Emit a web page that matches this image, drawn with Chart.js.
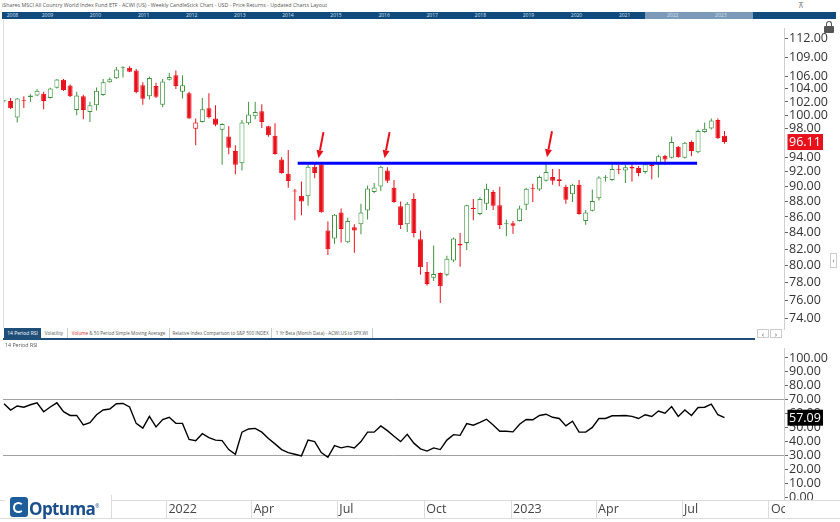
<!DOCTYPE html>
<html>
<head>
<meta charset="utf-8">
<script src="https://cdn.jsdelivr.net/npm/chart.js@4.4.1/dist/chart.umd.min.js"></script>
<style>
  body { margin: 0; background: #fff; }
  #wrap { position: relative; width: 840px; height: 522px; overflow: hidden; font-family: 'Open Sans', sans-serif; }
  canvas { position: absolute; left: 0; }
  #price { top: 20px; }
  #rsi { top: 340px; }
  .abs { position: absolute; }
  #title { left: 2px; top: 1px; font-size: 5.3px; color: #555; white-space: nowrap; line-height: 8px; }
  #nav { left: 2px; top: 12px; width: 834px; height: 7px; background: #114b7e; }
  #navSel { left: 643px; top: 0; width: 108px; height: 7px; background: #7c9aba; }
  .yr { position: absolute; top: 0; font-size: 5px; color: #d5e0ec; line-height: 7px; }
  .tab { position: absolute; top: 328px; height: 10px; line-height: 10px; font-size: 4.6px; color: #555;
         text-align: center; border-right: 1px solid #ccc; background: #fff; box-sizing: border-box;
         white-space: nowrap; overflow: hidden; }
  .tab.act { background: #1f4e79; color: #fff; border: none; font-size: 5px; }
  #tabline { left: 3px; top: 338px; width: 752px; height: 2px; background: #1f4e79; }
  #rsiLabel { left: 5px; top: 341px; font-size: 5.3px; color: #555; line-height: 8px; }
  .btn { position: absolute; top: 329px; width: 12px; height: 9px; border: 1px solid #ccc; box-sizing: border-box;
         font-size: 8px; line-height: 7px; text-align: center; color: #555; background: #fff; }
  #leftBorder { left: 3px; top: 20px; width: 1px; height: 308px; background: #ddd; }
  .hline { position: absolute; left: 0; width: 840px; height: 1px; background: #dcdcdc; }
  #clipR { left: 785px; top: 501px; width: 55px; height: 17px; background: #fff; }
  #logo { left: 5px; top: 495px; width: 106px; height: 23px; background: #fff; border-right: 1px solid #dcdcdc; }
  #logoIcon { left: 5px; top: 2px; width: 18px; height: 20px; background: #1d5d9b; border-radius: 3px; }
  #logoRing { left: 3px; top: 5px; width: 7px; height: 7px; border: 2.5px solid #fff; border-radius: 50%; border-right-color: transparent; }
  #logoText { left: 24px; top: -1px; font-size: 17px; font-weight: 700; color: #1b4f8c; letter-spacing: -0.6px; line-height: 24px; }
  #lockBody { left: 824px; top: 26px; width: 10px; height: 7px; background: #555; border-radius: 1px; }
  #lockArc { left: 826px; top: 21px; width: 4px; height: 6px; border: 1.5px solid #555; border-bottom: none; border-radius: 3px 3px 0 0; }
  #pin { left: 798px; top: 0px; font-size: 8px; color: #888; line-height: 9px; }
  #sideTab { left: 830px; top: 253px; width: 7px; height: 15px; border: 1px solid #ccc; box-sizing: border-box;
             font-size: 7px; line-height: 13px; text-align: center; color: #666; }
</style>
</head>
<body>
<div id="wrap">
  <div id="title" class="abs">iShares MSCI All Country World Index Fund ETF - ACWI (US) - Weekly CandleStick Chart - USD - Price Returns - Updated Charts Layout</div>
  <div id="nav" class="abs"><div id="navSel" class="abs"></div></div>
  <div id="pin" class="abs">&#8892;</div>
  <canvas id="price" width="840" height="318"></canvas>
  <canvas id="rsi" width="840" height="182"></canvas>
  <div id="leftBorder" class="abs"></div>
  <div id="lockArc" class="abs"></div>
  <div id="lockBody" class="abs"></div>
  <div id="sideTab" class="abs">&#8249;</div>
  <div class="tab act" style="left:4px;width:37px">14 Period RSI</div>
  <div class="tab" style="left:41px;width:27px">Volatility</div>
  <div class="tab" style="left:68px;width:102px"><span style="color:#d42020">Volume</span> &amp; 50 Period Simple Moving Average</div>
  <div class="tab" style="left:170px;width:102px">Relative Index Comparison to S&amp;P 500 INDEX</div>
  <div class="tab" style="left:272px;width:101px">1 Yr Beta (Month Data) - ACWI.US to SPX.WI</div>
  <div id="tabline" class="abs"></div>
  <div class="btn" style="left:757px">&#8249;</div>
  <div class="btn" style="left:770px">&#8250;</div>
  <div id="rsiLabel" class="abs">14 Period RSI</div>
  <div class="hline" style="top:500px"></div>
  <div class="hline" style="top:518px"></div>
  <div id="clipR" class="abs"></div>
  <div id="logo" class="abs">
    <div id="logoIcon" class="abs"><div id="logoRing" class="abs"></div></div>
    <div id="logoText" class="abs">Optuma<sup style="font-size:5px;font-weight:400">&reg;</sup></div>
  </div>
</div>
<script>
// weekly bars, first bar date
const firstWeek = '2021-07-13';

const opens = [102.10,102.13,99.68,102.16,102.76,102.99,103.24,102.61,104.16,105.40,
  104.51,100.80,102.85,100.48,101.52,103.06,105.04,105.63,107.38,107.30,
  106.88,104.55,102.85,104.45,101.56,105.40,106.13,103.57,103.34,98.01,
  99.02,101.04,99.54,97.88,96.92,94.85,93.14,98.84,99.86,100.62,
  98.38,97.00,93.66,91.71,89.40,88.75,88.67,92.66,93.01,84.30,
  83.31,86.58,82.85,84.69,85.09,86.82,89.25,89.97,92.14,89.80,
  87.38,85.09,88.33,83.20,79.25,78.59,79.14,78.95,80.63,82.66,
  82.74,87.19,86.37,87.72,89.25,87.51,85.09,85.21,85.49,87.59,
  89.70,89.59,90.76,91.27,90.94,89.93,88.96,90.22,85.49,86.79,
  88.42,91.15,90.85,92.36,92.14,92.66,92.49,91.92,93.01,93.01,
  94.19,93.88,95.43,93.88,96.10,94.67,97.56,98.05,99.30,97.00];
const highs = [102.25,102.61,102.61,102.85,103.19,103.92,103.57,104.16,105.54,105.54,
  104.66,103.57,103.09,102.04,104.22,105.54,105.78,107.42,107.53,107.53,
  107.12,105.04,105.93,104.96,105.54,106.53,106.88,106.13,103.57,99.54,
  102.61,103.34,101.52,98.84,98.38,95.66,99.30,102.04,102.04,101.66,
  98.47,98.84,93.97,94.99,89.65,90.63,93.01,93.31,93.11,85.41,
  86.37,87.10,85.89,85.09,87.72,90.10,90.43,92.79,92.57,90.85,
  88.00,87.93,89.09,84.30,80.44,82.43,79.20,81.20,83.43,83.98,
  87.59,88.33,88.54,90.35,89.50,89.93,85.69,85.49,87.43,89.80,
  90.35,91.45,93.01,92.36,92.36,90.22,90.35,90.85,86.89,89.59,
  91.36,91.49,92.92,92.92,92.92,93.22,92.75,93.22,93.22,94.32,
  94.32,96.92,95.56,96.10,96.33,97.92,98.94,99.54,99.54,97.69];
const lows = [101.95,100.94,98.94,101.08,102.04,102.85,100.90,102.51,104.07,103.67,
  102.76,100.00,99.40,99.02,100.70,102.95,104.96,105.54,105.78,106.59,
  103.33,101.56,102.37,102.61,101.19,105.29,103.97,102.51,99.50,95.66,
  98.95,99.54,98.38,92.92,94.40,91.62,92.14,98.61,99.40,98.15,
  96.88,94.30,91.71,89.80,85.57,86.21,87.43,91.07,86.55,81.28,
  82.66,82.81,82.74,81.57,83.83,85.69,89.09,89.38,90.43,87.84,
  84.49,84.10,83.43,78.95,77.67,78.21,75.69,78.77,80.44,79.88,
  81.89,85.57,86.21,86.89,86.89,84.49,83.59,83.90,85.41,86.89,
  87.93,89.38,90.63,90.22,90.01,87.72,87.93,86.29,85.02,86.70,
  88.12,90.63,90.76,91.62,90.43,90.63,91.36,91.71,90.94,91.19,
  92.92,93.80,93.88,93.80,94.10,94.54,97.46,97.92,96.55,95.87];
const closes = [102.16,101.04,102.51,102.10,102.99,103.72,102.13,104.07,105.44,103.82,
  102.85,102.99,100.80,101.52,103.72,105.04,105.48,107.03,107.23,106.67,
  103.48,102.47,105.69,102.80,105.14,105.84,104.45,104.55,99.54,98.94,
  100.90,99.72,98.61,98.70,95.30,92.92,98.94,100.10,100.48,99.02,
  97.09,94.43,91.79,90.72,89.31,88.00,92.66,91.79,86.61,81.97,
  86.29,84.49,85.49,84.30,86.58,89.72,89.85,92.66,90.76,87.93,
  84.97,87.72,83.98,79.81,77.85,79.03,77.60,80.82,83.31,82.43,
  87.51,87.02,88.33,89.68,87.43,84.97,85.17,84.89,87.10,89.68,
  89.60,91.27,91.92,90.76,90.72,88.21,90.22,86.37,86.58,88.05,
  91.19,91.22,92.36,92.23,92.57,92.40,91.79,93.01,92.75,94.10,
  93.66,96.10,93.97,96.01,94.85,97.69,98.01,99.22,96.64,96.11];

const rsi14 = [67.1,62.6,65.5,64.6,66.4,67.8,61.4,64.8,67.8,61.4,
  58.7,58.7,51.9,53.5,59.2,62.6,63.3,67.1,67.3,64.8,
  53.0,49.6,58.0,50.5,55.8,57.4,53.0,53.0,41.5,40.6,
  45.6,42.8,41.0,40.6,34.2,30.8,46.7,49.0,49.4,46.7,
  42.2,38.3,34.2,32.0,30.8,29.7,41.0,39.9,32.0,28.6,
  37.0,35.4,36.5,35.4,39.9,46.7,46.7,51.2,47.8,43.7,
  39.9,45.1,38.8,34.7,33.1,35.4,34.2,41.0,44.9,44.4,
  52.8,51.7,53.7,56.0,51.9,47.4,47.4,46.9,52.4,55.8,
  55.6,58.7,59.6,57.4,56.5,51.2,54.6,46.7,46.7,50.1,
  56.5,56.5,58.5,58.5,58.7,58.0,56.5,59.2,58.0,61.9,
  60.3,65.1,58.0,62.6,58.7,64.4,64.6,66.9,59.2,57.09];

// resistance line and arrow tips (date, price)
const resistance = { from: '2022-05-20', to: '2023-07-17', level: 93.15 };
const arrowTips = [['2022-06-11', 93.84], ['2022-08-20', 93.84], ['2023-02-08', 93.97]];

const priceTicks = [74,76,78,80,82,84,86,88,90,92,94,98,100,102,104,106,109,112];
const rsiTicks = [0,10,20,30,40,50,60,70,80,90,100];
const rsiBands = [30, 70];
const quarterTicks = ['2021-10-01','2022-01-01','2022-04-01','2022-07-01','2022-10-01',
  '2023-01-01','2023-04-01','2023-07-01','2023-10-01'];
const monthNames = ['Jan','Feb','Mar','Apr','May','Jun','Jul','Aug','Sep','Oct','Nov','Dec'];
const navYears = [2008,2009,2010,2011,2012,2013,2014,2015,2016,2017,2018,2019,2020,2021,2022,2023];

const DAY = 864e5;
const day = s => Date.parse(s + 'T00:00:00Z');
const t0 = day(firstWeek);
const dates = closes.map((c, i) => t0 + i * 7 * DAY);
const xMin = t0 - 1.06 * DAY, xMax = t0 + 826 * DAY;

const GREEN = '#3f933f', RED = '#e8101a';
const col = closes.map((c, i) => (i === 0 || c >= closes[i - 1]) ? GREEN : RED);
const hollow = closes.map((c, i) => c > opens[i]);

// navigator years
const nav = document.getElementById('nav');
navYears.forEach((y, i) => {
  const s = document.createElement('span');
  s.className = 'yr';
  s.style.left = (i === 0 ? 4.7 : 39.7 + (y - 2009) * 48.1) + 'px';
  s.textContent = y;
  nav.appendChild(s);
});

Chart.defaults.font.family = "'Open Sans', sans-serif";
Chart.defaults.color = '#333';

const tagPlugin = (value, bg) => ({
  id: 'tag',
  afterDraw(chart) {
    const { ctx, chartArea, scales: { y } } = chart;
    const py = y.getPixelForValue(value);
    ctx.save();
    ctx.fillStyle = bg;
    ctx.fillRect(chartArea.right + 3.5, py - 8, 35.5, 16);
    ctx.fillStyle = '#fff';
    ctx.font = "12.5px 'Open Sans'";
    ctx.textBaseline = 'middle';
    ctx.fillText(value.toFixed(2), chartArea.right + 5, py + 0.5);
    ctx.restore();
  }
});

const arrowPlugin = {
  id: 'arrows',
  afterDatasetsDraw(chart) {
    const { ctx, scales: { x, y } } = chart;
    ctx.save();
    ctx.strokeStyle = ctx.fillStyle = RED;
    ctx.lineWidth = 2;
    arrowTips.forEach(([d, p]) => {
      const tx = x.getPixelForValue(day(d)), ty = y.getPixelForValue(p);
      const sx = tx + 5, sy = ty - 26;
      const a = Math.atan2(ty - sy, tx - sx);
      const hx = tx - 8 * Math.cos(a), hy = ty - 8 * Math.sin(a);
      ctx.beginPath(); ctx.moveTo(sx, sy); ctx.lineTo(hx, hy); ctx.stroke();
      ctx.beginPath(); ctx.moveTo(tx, ty);
      ctx.lineTo(hx + 3.5 * Math.sin(a), hy - 3.5 * Math.cos(a));
      ctx.lineTo(hx - 3.5 * Math.sin(a), hy + 3.5 * Math.cos(a));
      ctx.closePath(); ctx.fill();
    });
    ctx.restore();
  }
};

const fixWidth = s => { s.width = 56; };
const tickFont = { size: 12.5 };

new Chart(document.getElementById('price'), {
  type: 'bar',
  data: {
    datasets: [{
      label: 'body',
      data: dates.map((d, i) => ({ x: d, y: [opens[i], closes[i]] })),
      backgroundColor: col.map((c, i) => hollow[i] ? '#fff' : c),
      borderColor: col,
      borderWidth: 1,
      borderSkipped: false,
      barThickness: 5,
      minBarLength: 1,
      inflateAmount: 0,
      grouped: false,
      order: 1
    }, {
      label: 'wick',
      data: dates.map((d, i) => ({ x: d, y: [lows[i], highs[i]] })),
      backgroundColor: col,
      borderWidth: 0,
      barThickness: 1,
      inflateAmount: 0,
      grouped: false,
      order: 2
    }, {
      type: 'line',
      label: 'resistance',
      data: [{ x: day(resistance.from), y: resistance.level }, { x: day(resistance.to), y: resistance.level }],
      borderColor: '#0000ff',
      borderWidth: 3,
      pointRadius: 0,
      order: 0
    }]
  },
  options: {
    responsive: false,
    animation: false,
    events: [],
    layout: { padding: { left: 3, right: 0, top: 0, bottom: 0 } },
    plugins: { legend: { display: false }, tooltip: { enabled: false } },
    scales: {
      x: { type: 'linear', min: xMin, max: xMax, offset: false, display: false },
      y: {
        type: 'logarithmic', position: 'right', min: 72.78, max: 113.74,
        afterBuildTicks: s => { s.ticks = priceTicks.map(v => ({ value: v })); },
        afterFit: fixWidth,
        border: { color: '#cfcfcf' },
        grid: { drawOnChartArea: false, tickLength: 4, tickColor: '#666' },
        ticks: { font: tickFont, padding: 1, color: '#333', autoSkip: false, callback: v => v.toFixed(2) }
      }
    }
  },
  plugins: [arrowPlugin, tagPlugin(closes[closes.length - 1], RED)]
});

new Chart(document.getElementById('rsi'), {
  type: 'line',
  data: {
    datasets: [{
      label: '14 Period RSI',
      data: dates.map((d, i) => ({ x: d, y: rsi14[i] })),
      borderColor: '#000',
      borderWidth: 1.4,
      pointRadius: 0,
      tension: 0
    }]
  },
  options: {
    responsive: false,
    animation: false,
    events: [],
    layout: { padding: { left: 3, right: 0, top: 0, bottom: 0 } },
    plugins: { legend: { display: false }, tooltip: { enabled: false } },
    scales: {
      x: {
        type: 'linear', min: xMin, max: xMax, offset: false,
        afterBuildTicks: s => { s.ticks = quarterTicks.map(q => ({ value: day(q) })); },
        afterFit: s => { s.height = 22; },
        border: { color: '#dcdcdc' },
        grid: { drawOnChartArea: false, tickLength: 18, color: '#dcdcdc' },
        ticks: {
          align: 'start', labelOffset: 2, padding: -16, maxRotation: 0, autoSkip: false,
          font: tickFont, color: '#444',
          callback: v => {
            const d = new Date(v);
            return d.getUTCMonth() === 0 ? String(d.getUTCFullYear()) : monthNames[d.getUTCMonth()];
          }
        }
      },
      y: {
        position: 'right', min: -2.04, max: 106.8,
        afterBuildTicks: s => { s.ticks = rsiTicks.map(v => ({ value: v })); },
        afterFit: fixWidth,
        border: { color: '#cfcfcf' },
        grid: {
          tickLength: 4, tickColor: '#666',
          color: c => rsiBands.includes(c.tick && c.tick.value) ? '#a0a0a0' : 'rgba(0,0,0,0)'
        },
        ticks: { font: tickFont, padding: 1, color: '#333', autoSkip: false, callback: v => v.toFixed(2) }
      }
    }
  },
  plugins: [tagPlugin(rsi14[rsi14.length - 1], '#000')]
});
</script>
</body>
</html>
